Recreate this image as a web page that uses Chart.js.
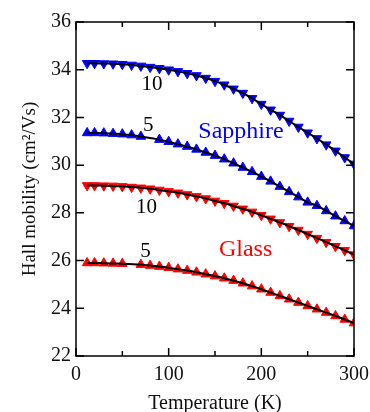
<!DOCTYPE html>
<html>
<head>
<meta charset="utf-8">
<script src="https://cdn.jsdelivr.net/npm/chart.js@4"></script>
<style>
  body { margin: 0; background: #fff; }
  canvas { display: block; }
</style>
</head>
<body>
<canvas id="mobilityChart" width="370" height="412"></canvas>
<script>
// temperatures (K) of the measured points
const temps = [12, 20, 30, 40, 50, 60, 70, 80, 90, 100, 110, 120, 130, 140, 150,
  160, 170, 180, 190, 200, 210, 220, 230, 240, 250, 260, 270, 280, 290, 300];

// Hall mobility (cm2/Vs), null = no point at that temperature
const sapphire10 = [34.27, 34.27, 34.26, 34.25, 34.23, 34.2, 34.16, 34.11, 34.06, 34.0,
  33.93, 33.85, 33.76, 33.65, 33.52, 33.37, 33.2, 33.02, 32.8, 32.56,
  32.32, 32.1, 31.85, 31.6, 31.36, 31.12, 30.86, 30.6, 30.32, 30.05];
const sapphire5 = [31.35, 31.35, 31.34, 31.32, 31.3, 31.26, 31.2, null, 31.07, 30.98,
  30.88, 30.78, 30.66, 30.53, 30.4, 30.25, 30.08, 29.9, 29.72, 29.52,
  29.32, 29.1, 28.88, 28.66, 28.44, 28.3, 28.08, 27.86, 27.66, 27.45];
const glass10 = [29.15, 29.15, 29.14, 29.13, 29.11, 29.08, 29.05, 29.01, 28.96, 28.9,
  28.84, 28.77, 28.69, 28.6, 28.5, 28.4, 28.29, 28.17, 28.04, 27.9,
  27.75, 27.6, 27.44, 27.28, 27.11, 26.94, 26.77, 26.6, 26.43, 26.25];
const glass5 = [25.9, 25.9, 25.89, 25.88, 25.87, null, 25.83, 25.79, 25.75, 25.7,
  25.64, 25.58, 25.51, 25.43, 25.35, 25.26, 25.16, 25.05, 24.93, 24.8,
  24.66, 24.52, 24.38, 24.24, 24.1, 23.96, 23.82, 23.68, 23.53, 23.38];

const xMajor = [0, 100, 200, 300];
const xMinor = [50, 150, 250];
const yMajor = [22, 24, 26, 28, 30, 32, 34, 36];

// text labels inside the plot, placed in data coordinates
const notes = [
  { text: '10', x: 82, y: 33.4, color: '#000', size: 21, base: 'middle' },
  { text: '5', x: 78, y: 31.67, color: '#000', size: 21, base: 'middle' },
  { text: 'Sapphire', x: 178, y: 31.15, color: '#0000ff', size: 24, base: 'alphabetic' },
  { text: '10', x: 76, y: 28.21, color: '#000', size: 21, base: 'middle' },
  { text: 'Glass', x: 183, y: 26.21, color: '#ff0000', size: 24, base: 'alphabetic' },
  { text: '5', x: 75, y: 26.38, color: '#000', size: 21, base: 'middle' }
];

const SERIF = "'Liberation Serif', 'DejaVu Serif', serif";

function toPoints(values) {
  const pts = [];
  values.forEach((v, i) => {
    if (v !== null) pts.push({ x: temps[i], y: v });
  });
  return pts;
}

function markers(values, color, down) {
  return {
    data: toPoints(values),
    showLine: false,
    pointStyle: 'triangle',
    pointRotation: down ? 180 : 0,
    pointRadius: 5.5,
    pointBorderWidth: 1,
    pointBackgroundColor: color,
    pointBorderColor: color,
    order: 1
  };
}

function fitLine(values) {
  return {
    data: toPoints(values),
    borderColor: '#000',
    borderWidth: 2,
    pointRadius: 0,
    tension: 0.4,
    cubicInterpolationMode: 'monotone',
    spanGaps: true,
    fill: false,
    order: 0
  };
}

const frameTicks = {
  id: 'frameTicks',
  afterDraw(chart) {
    const { ctx, chartArea: a, scales: { x, y } } = chart;
    ctx.save();
    ctx.strokeStyle = '#000';
    ctx.lineWidth = 1.5;
    ctx.strokeRect(a.left, a.top, a.right - a.left, a.bottom - a.top);
    ctx.beginPath();
    xMajor.forEach(v => {
      const px = x.getPixelForValue(v);
      ctx.moveTo(px, a.bottom); ctx.lineTo(px, a.bottom - 8);
      ctx.moveTo(px, a.top); ctx.lineTo(px, a.top + 8);
    });
    xMinor.forEach(v => {
      const px = x.getPixelForValue(v);
      ctx.moveTo(px, a.bottom); ctx.lineTo(px, a.bottom - 5);
      ctx.moveTo(px, a.top); ctx.lineTo(px, a.top + 5);
    });
    yMajor.forEach(v => {
      const py = y.getPixelForValue(v);
      ctx.moveTo(a.left, py); ctx.lineTo(a.left + 8, py);
      ctx.moveTo(a.right, py); ctx.lineTo(a.right - 8, py);
    });
    ctx.stroke();

    ctx.textAlign = 'center';
    notes.forEach(n => {
      ctx.font = n.size + 'px ' + SERIF;
      ctx.fillStyle = n.color;
      ctx.textBaseline = n.base;
      ctx.fillText(n.text, x.getPixelForValue(n.x), y.getPixelForValue(n.y));
    });
    ctx.restore();
  }
};

const ctx = document.getElementById('mobilityChart').getContext('2d');
new Chart(ctx, {
  type: 'line',
  data: {
    datasets: [
      fitLine(sapphire10), fitLine(sapphire5), fitLine(glass10), fitLine(glass5),
      markers(sapphire10, '#0000ff', true),
      markers(sapphire5, '#0000ff', false),
      markers(glass10, '#ff0000', true),
      markers(glass5, '#ff0000', false)
    ]
  },
  options: {
    responsive: false,
    animation: false,
    layout: { padding: { left: 0, top: 22, right: 16, bottom: 0 } },
    plugins: { legend: { display: false }, tooltip: { enabled: false } },
    scales: {
      x: {
        type: 'linear',
        min: 0,
        max: 300,
        afterBuildTicks: scale => { scale.ticks = xMajor.map(v => ({ value: v })); },
        afterFit: scale => {
          scale.height = 56;
          scale.paddingLeft = 0;
          scale.paddingRight = 0;
        },
        grid: { display: false, drawTicks: false },
        border: { display: false },
        ticks: { color: '#111', padding: 7, maxRotation: 0, font: { family: SERIF, size: 20 } },
        title: {
          display: true,
          text: 'Temperature (K)',
          color: '#111',
          padding: 0,
          font: { family: SERIF, size: 20, lineHeight: 0.8 }
        }
      },
      y: {
        min: 22,
        max: 36,
        afterBuildTicks: scale => { scale.ticks = yMajor.map(v => ({ value: v })); },
        afterFit: scale => {
          scale.width = 76;
          scale.paddingTop = 0;
          scale.paddingBottom = 0;
        },
        grid: { display: false, drawTicks: false },
        border: { display: false },
        ticks: { color: '#111', padding: 5, font: { family: SERIF, size: 20 } },
        title: {
          display: true,
          text: 'Hall mobility (cm²/Vs)',
          color: '#111',
          padding: { top: 19, bottom: 0 },
          font: { family: SERIF, size: 19 }
        }
      }
    }
  },
  plugins: [frameTicks]
});
</script>
</body>
</html>
